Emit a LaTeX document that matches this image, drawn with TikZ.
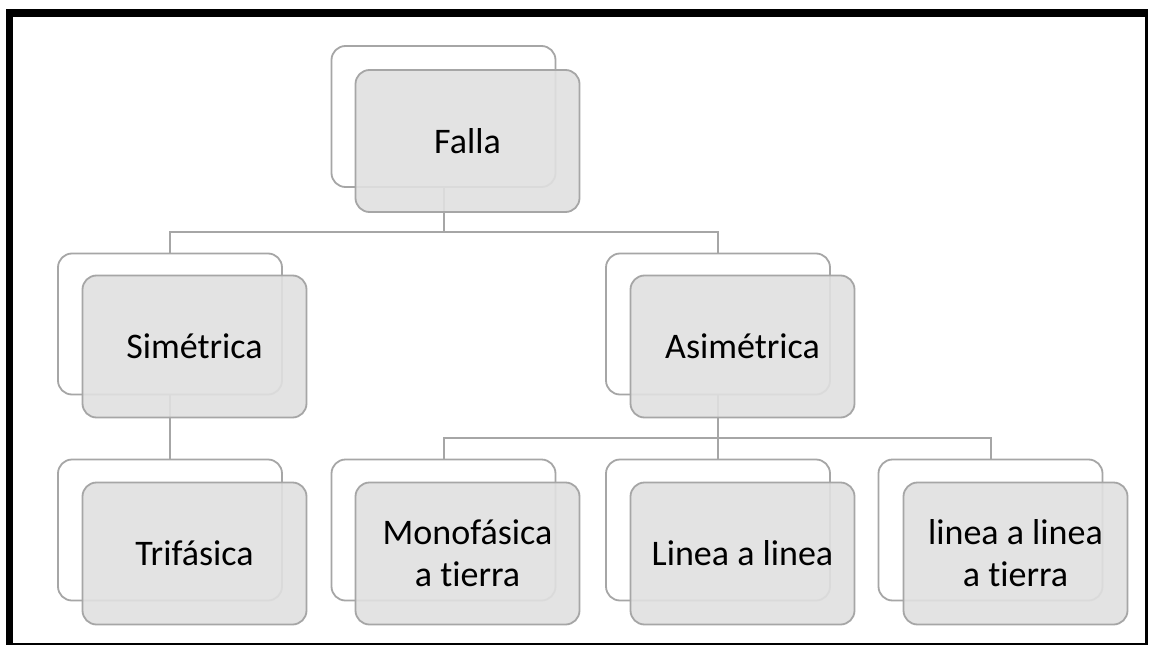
\documentclass[tikz,border=0pt]{standalone}
\usepackage{fontspec}
\setmainfont[Ligatures=NoCommon]{Carlito}
\usetikzlibrary{positioning}

\definecolor{boxline}{RGB}{166,166,166}
\definecolor{boxfill}{RGB}{224,224,224}

\begin{document}
\begin{tikzpicture}[x=1pt,y=-1pt,
    backbox/.style={draw=boxline, line width=1.8pt, fill=white, rounded corners=14pt,
        minimum width=224pt, minimum height=141pt, inner sep=0pt},
    frontbox/.style={draw=boxline, line width=1.8pt, fill=boxfill, fill opacity=0.9,
        text opacity=1, rounded corners=14pt, minimum width=224pt, minimum height=142pt,
        inner sep=0pt, align=center, font=\fontsize{36}{42}\selectfont},
    conn/.style={draw=boxline, line width=2pt}]
        \useasboundingbox (0,0) rectangle (1152,645);

        % Frame
        \fill[black] (6,9) rectangle (1148,645);
        \fill[white] (13,17) rectangle (1145,643);

        % Bus heights
        \coordinate (busA) at (0,232);
        \coordinate (busB) at (0,438);

        % Back boxes
        \node[backbox] (fallaB) at (443.5,116.5) {};
        \node[backbox] (simB) at (170,324) {};
        \node[backbox] (asiB) at (718,324) {};
        \node[backbox] (triB) at (170,530) {};
        \node[backbox] (monoB) at (443.5,530) {};
        \node[backbox] (llB) at (718,530) {};
        \node[backbox] (lltB) at (990.5,530) {};

        % Connectors
        \draw[conn] (fallaB.south) -- (fallaB.south |- busA) -| (simB.north);
        \draw[conn] (fallaB.south |- busA) -| (asiB.north);
        \draw[conn] (simB.south) -- (triB.north);
        \draw[conn] (asiB.south) -- (llB.north);
        \draw[conn] (asiB.south |- busB) -| (monoB.north);
        \draw[conn] (asiB.south |- busB) -| (lltB.north);

        % Front boxes
        \node[frontbox] (falla) at (467.5,141) {Falla};
        \node[frontbox] (sim) at (194.5,346.5) {Simétrica};
        \node[frontbox] (asi) at (742.5,346.5) {Asimétrica};
        \node[frontbox] (tri) at (194.5,553.5) {Trifásica};
        \node[frontbox] (mono) at (467.5,553.5) {Monofásica\\a tierra};
        \node[frontbox] (ll) at (742.5,553.5) {Linea a linea};
        \node[frontbox] (llt) at (1015.5,553.5) {linea a linea\\a tierra};
\end{tikzpicture}
\end{document}
